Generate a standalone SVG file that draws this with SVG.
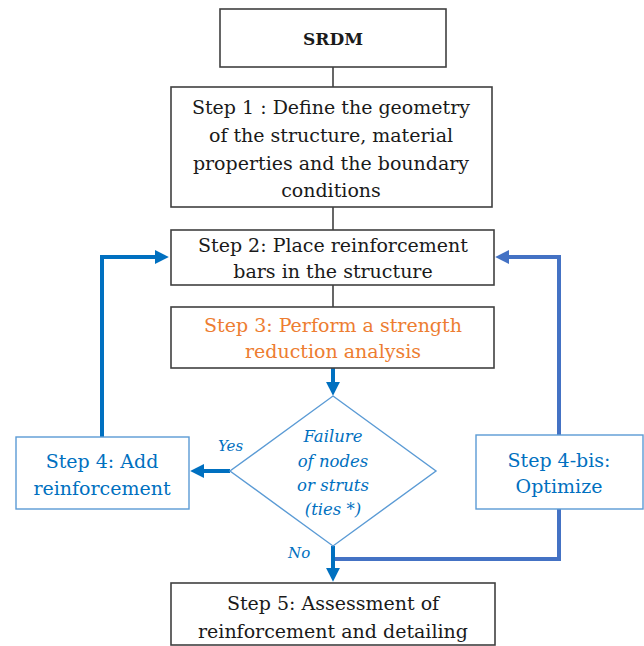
<svg xmlns="http://www.w3.org/2000/svg" width="644" height="646" viewBox="0 0 644 646">
<style>
text{font-family:'DejaVu Serif','Liberation Serif',serif}
.box{fill:#fff;stroke:#404040;stroke-width:1.6}
.bbox{fill:#fff;stroke:#5B9BD5;stroke-width:1.4}
.t{font-size:19px;text-anchor:middle;fill:#1a1a1a}
.or{fill:#ED7D31}
.bl{fill:#0070C0}
.it{font-style:italic;font-size:16.5px;text-anchor:middle;fill:#0070C0}
.lab{font-style:italic;font-size:15px;fill:#0070C0}
.k{stroke:#404040;stroke-width:1.6;fill:none}
.b{stroke:#0070C0;stroke-width:4;fill:none}
.b2{stroke:#4472C4;stroke-width:4;fill:none}
</style>
<defs>
<marker id="ab" viewBox="0 0 12 12" markerWidth="14" markerHeight="14" refX="1" refY="6" orient="auto" markerUnits="userSpaceOnUse"><path d="M0,0 L12,6 L0,12 z" fill="#0070C0"/></marker>
<marker id="ab2" viewBox="0 0 12 12" markerWidth="14" markerHeight="14" refX="1" refY="6" orient="auto" markerUnits="userSpaceOnUse"><path d="M0,0 L12,6 L0,12 z" fill="#4472C4"/></marker>
</defs>
<rect width="644" height="646" fill="#fff"/>
<g id="connectors">
<line class="k" x1="333" y1="67" x2="333" y2="87"/>
<line class="k" x1="333" y1="207" x2="333" y2="230"/>
<line class="k" x1="333" y1="285" x2="333" y2="307"/>
<line class="b" x1="333" y1="368" x2="333" y2="383" marker-end="url(#ab)"/>
<line class="b" x1="230" y1="471" x2="203" y2="471" marker-end="url(#ab)"/>
<polyline class="b" points="102,437 102,257 156,257" marker-end="url(#ab)"/>
<polyline class="b2" points="559,435 559,257 508,257" marker-end="url(#ab2)"/>
<polyline class="b2" points="559,509 559,559 333,559"/>
<line class="b" x1="333" y1="546" x2="333" y2="569" marker-end="url(#ab)"/>
</g>
<g id="srdm">
<rect class="box" x="220" y="9" width="226" height="58"/>
<text class="t" x="333" y="45" style="font-weight:bold;font-size:17px">SRDM</text>
</g>
<g id="step1">
<rect class="box" x="171" y="87" width="321" height="120"/>
<text class="t" x="331" y="114">Step 1 : Define the geometry</text>
<text class="t" x="331" y="142">of the structure, material</text>
<text class="t" x="331" y="170">properties and the boundary</text>
<text class="t" x="331" y="197">conditions</text>
</g>
<g id="step2">
<rect class="box" x="171" y="230" width="323" height="55"/>
<text class="t" x="333" y="252">Step 2: Place reinforcement</text>
<text class="t" x="333" y="278">bars in the structure</text>
</g>
<g id="step3">
<rect class="box" x="171" y="307" width="323" height="61"/>
<text class="t or" x="333" y="332">Step 3: Perform a strength</text>
<text class="t or" x="333" y="358">reduction analysis</text>
</g>
<g id="decision">
<polygon points="333,396 436,471 333,546 230,471" fill="#fff" stroke="#5B9BD5" stroke-width="1.4"/>
<text class="it" x="333" y="442">Failure</text>
<text class="it" x="333" y="467">of nodes</text>
<text class="it" x="333" y="491">or struts</text>
<text class="it" x="333" y="515">(ties *)</text>
</g>
<g id="step4">
<rect class="bbox" x="16" y="437" width="173" height="72"/>
<text class="t bl" x="102" y="468">Step 4: Add</text>
<text class="t bl" x="102" y="495">reinforcement</text>
</g>
<g id="step4bis">
<rect class="bbox" x="476" y="435" width="167" height="74"/>
<text class="t bl" x="559" y="467">Step 4-bis:</text>
<text class="t bl" x="559" y="493">Optimize</text>
</g>
<g id="labels">
<text class="lab" x="218" y="451">Yes</text>
<text class="lab" x="288" y="558">No</text>
</g>
<g id="step5">
<rect class="box" x="171" y="583" width="324" height="62"/>
<text class="t" x="333" y="610">Step 5: Assessment of</text>
<text class="t" x="333" y="638">reinforcement and detailing</text>
</g>
</svg>
